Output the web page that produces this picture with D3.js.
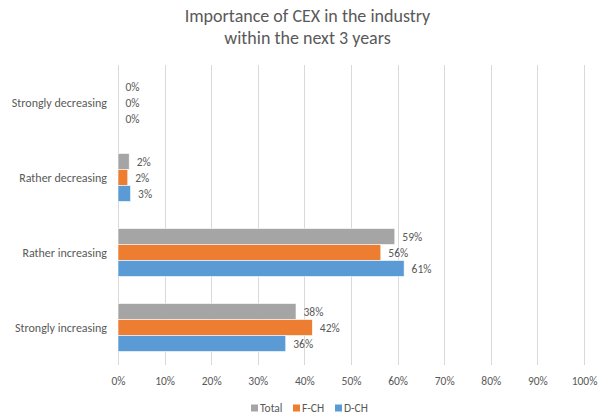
<!DOCTYPE html>
<html>
<head>
<meta charset="utf-8">
<script src="https://cdn.jsdelivr.net/npm/d3@7"></script>
<style>
  body { margin: 0; background: #fff; }
  text { font-family: Carlito, Lato, "Open Sans", sans-serif; fill: #595959; }
</style>
</head>
<body>
<div id="chart"></div>
<script>
var categories = ["Strongly decreasing", "Rather decreasing", "Rather increasing", "Strongly increasing"];
var seriesNames = ["Total", "F-CH", "D-CH"];
var seriesColors = ["#A5A5A5", "#ED7D31", "#5B9BD5"];
var totalValues = [0, 0.024, 0.594, 0.382];
var fchValues = [0, 0.021, 0.564, 0.417];
var dchValues = [0, 0.027, 0.614, 0.360];
var valueLabels = [
    ["0%", "2%", "59%", "38%"],
    ["0%", "2%", "56%", "42%"],
    ["0%", "3%", "61%", "36%"]
];
var xTicks = [0, 0.1, 0.2, 0.3, 0.4, 0.5, 0.6, 0.7, 0.8, 0.9, 1];
var titleLines = ["Importance of CEX in the industry", "within the next 3 years"];

var series = [totalValues, fchValues, dchValues];

var W = 600,
    H = 416,
    margin = {top: 65, right: 16, bottom: 51, left: 118};

var svg = d3.select("#chart").append("svg")
    .attr("width", W)
    .attr("height", H);

var xScale = d3.scaleLinear()
    .domain([0, 1])
    .range([margin.left, W - margin.right]);

var yScale = d3.scaleBand()
    .domain(categories)
    .range([margin.top, H - margin.bottom])
    .paddingInner(0.36)
    .paddingOuter(0.18);

var ySub = d3.scaleBand()
    .domain(seriesNames)
    .range([0, yScale.bandwidth()]);

// gridlines
svg.append("g")
    .selectAll("line")
    .data(xTicks)
    .join("line")
    .attr("x1", function(d) { return Math.round(xScale(d)) + 0.5; })
    .attr("x2", function(d) { return Math.round(xScale(d)) + 0.5; })
    .attr("y1", margin.top)
    .attr("y2", H - margin.bottom)
    .style("stroke", "#D9D9D9")
    .style("stroke-width", 1);

// x tick labels
var xAxis = d3.axisBottom(xScale)
    .tickValues(xTicks)
    .tickFormat(d3.format(".0%"))
    .tickSize(0)
    .tickPadding(12);

var gx = svg.append("g")
    .attr("transform", "translate(0," + (H - margin.bottom) + ")")
    .call(xAxis);
gx.select(".domain").remove();
gx.selectAll("text")
    .style("font-size", "11.5px")
    .style("fill", "#595959")
    .style("font-family", "Carlito, Lato, 'Open Sans', sans-serif");

// y category labels
svg.append("g")
    .selectAll("text")
    .data(categories)
    .join("text")
    .attr("x", margin.left - 11)
    .attr("y", function(d) { return yScale(d) + yScale.bandwidth() / 2; })
    .attr("dy", "0.35em")
    .attr("text-anchor", "end")
    .style("font-size", "12px")
    .text(function(d) { return d; });

// bars
series.forEach(function(vals, si) {
    var g = svg.append("g");
    g.selectAll("rect")
        .data(vals)
        .join("rect")
        .attr("x", xScale(0))
        .attr("y", function(d, i) { return yScale(categories[i]) + ySub(seriesNames[si]); })
        .attr("width", function(d) { return xScale(d) - xScale(0); })
        .attr("height", ySub.bandwidth())
        .style("fill", seriesColors[si])
        .style("stroke", "#fff")
        .style("stroke-width", 0.6);
    g.selectAll("text")
        .data(vals)
        .join("text")
        .attr("x", function(d) { return xScale(d) + 7.5; })
        .attr("y", function(d, i) { return yScale(categories[i]) + ySub(seriesNames[si]) + ySub.bandwidth() / 2; })
        .attr("dy", "0.35em")
        .style("font-size", "11.5px")
        .text(function(d, i) { return valueLabels[si][i]; });
});

// title
svg.append("text")
    .attr("x", 307.5)
    .attr("y", 22)
    .attr("text-anchor", "middle")
    .style("font-size", "18px")
    .selectAll("tspan")
    .data(titleLines)
    .join("tspan")
    .attr("x", 307.5)
    .attr("dy", function(d, i) { return i == 0 ? 0 : 22; })
    .text(function(d) { return d; });

// legend
var legendX = [251, 293, 335];
var legend = svg.append("g")
    .selectAll("g")
    .data(seriesNames)
    .join("g")
    .attr("transform", function(d, i) { return "translate(" + legendX[i] + ",408)"; });
legend.append("rect")
    .attr("x", 0)
    .attr("y", -3.5)
    .attr("width", 7)
    .attr("height", 7)
    .style("fill", function(d, i) { return seriesColors[i]; });
legend.append("text")
    .attr("x", 9)
    .attr("y", 0)
    .attr("dy", "0.35em")
    .style("font-size", "11.5px")
    .text(function(d) { return d; });
</script>
</body>
</html>
